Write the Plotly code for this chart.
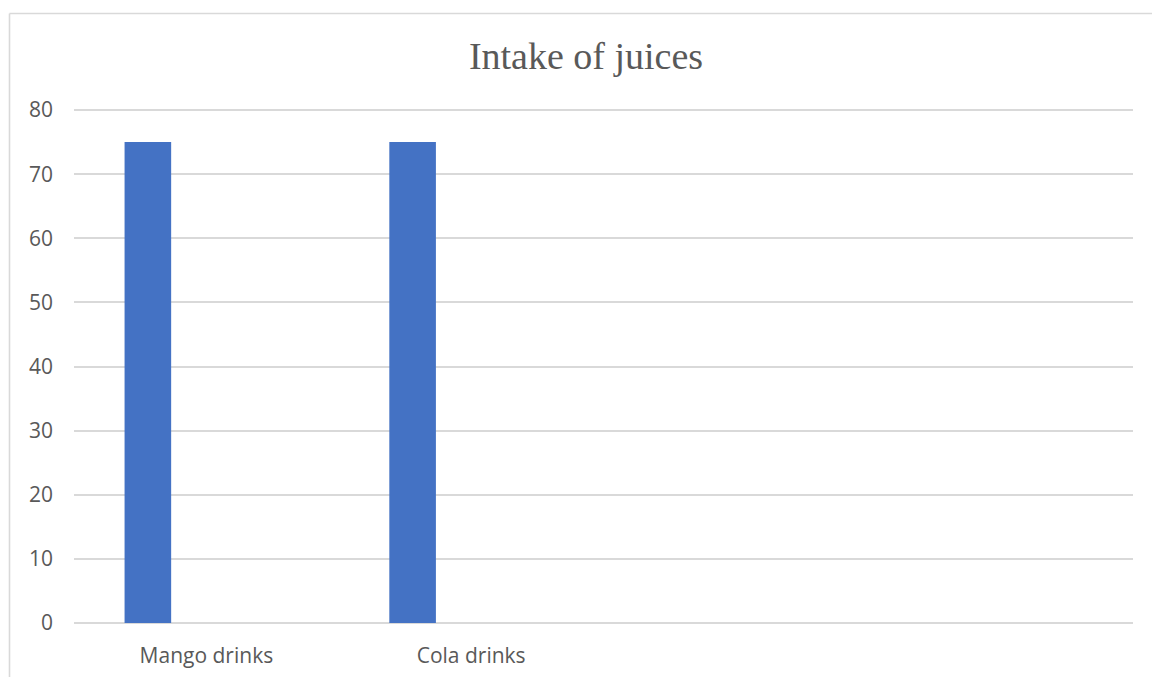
import plotly.graph_objects as go

categories = ["Mango drinks", "Cola drinks", " ", "  "]
values = [75, 75, None, None]
y_ticks = [0, 10, 20, 30, 40, 50, 60, 70, 80]

W, H = 1152, 677
L, R, T, B = 74, 19, 109, 54
pw, ph = W - L - R, H - T - B

def px_to_paper_x(px):
    return (px - L) / pw

def py_to_paper_y(py):
    return (H - B - py) / ph

fig = go.Figure()
fig.add_trace(go.Bar(
    x=categories, y=values,
    marker=dict(color="#4472C4", line=dict(width=0)),
    offset=-0.309, width=0.176,
    showlegend=False,
))

fig.update_layout(
    width=W, height=H,
    margin=dict(l=L, r=R, t=T, b=B, autoexpand=False),
    paper_bgcolor="white", plot_bgcolor="white",
    title=dict(text="Intake of juices", x=px_to_paper_x(586), xref="paper", xanchor="center",
               y=1 - 56 / H, yanchor="middle",
               font=dict(family="Liberation Serif", size=38, color="#595959")),
    font=dict(family="Open Sans", size=21, color="#595959"),
    xaxis=dict(type="category", categoryarray=categories, showgrid=False, automargin=False,
               showline=False, zeroline=False, ticks="", ticklabelstandoff=18,
               tickfont=dict(family="Open Sans", size=21, color="#595959"),
               range=[-0.5, 3.5]),
    yaxis=dict(range=[0, 80.16], tickvals=y_ticks, showgrid=True, gridcolor="#D9D9D9",
               automargin=False,
               gridwidth=1.6, zeroline=True, zerolinecolor="#D9D9D9", zerolinewidth=1.6,
               showline=False, ticks="", ticklabelstandoff=20,
               tickfont=dict(family="Open Sans", size=21, color="#595959")),
    shapes=[
        dict(type="line", xref="paper", yref="paper",
             x0=px_to_paper_x(9.5), x1=px_to_paper_x(1152), y0=py_to_paper_y(13.5), y1=py_to_paper_y(13.5),
             line=dict(color="#D9D9D9", width=1.6)),
        dict(type="line", xref="paper", yref="paper",
             x0=px_to_paper_x(9.5), x1=px_to_paper_x(9.5), y0=py_to_paper_y(13.5), y1=py_to_paper_y(677),
             line=dict(color="#D9D9D9", width=1.6)),
    ],
)

fig.write_html("out.html")
